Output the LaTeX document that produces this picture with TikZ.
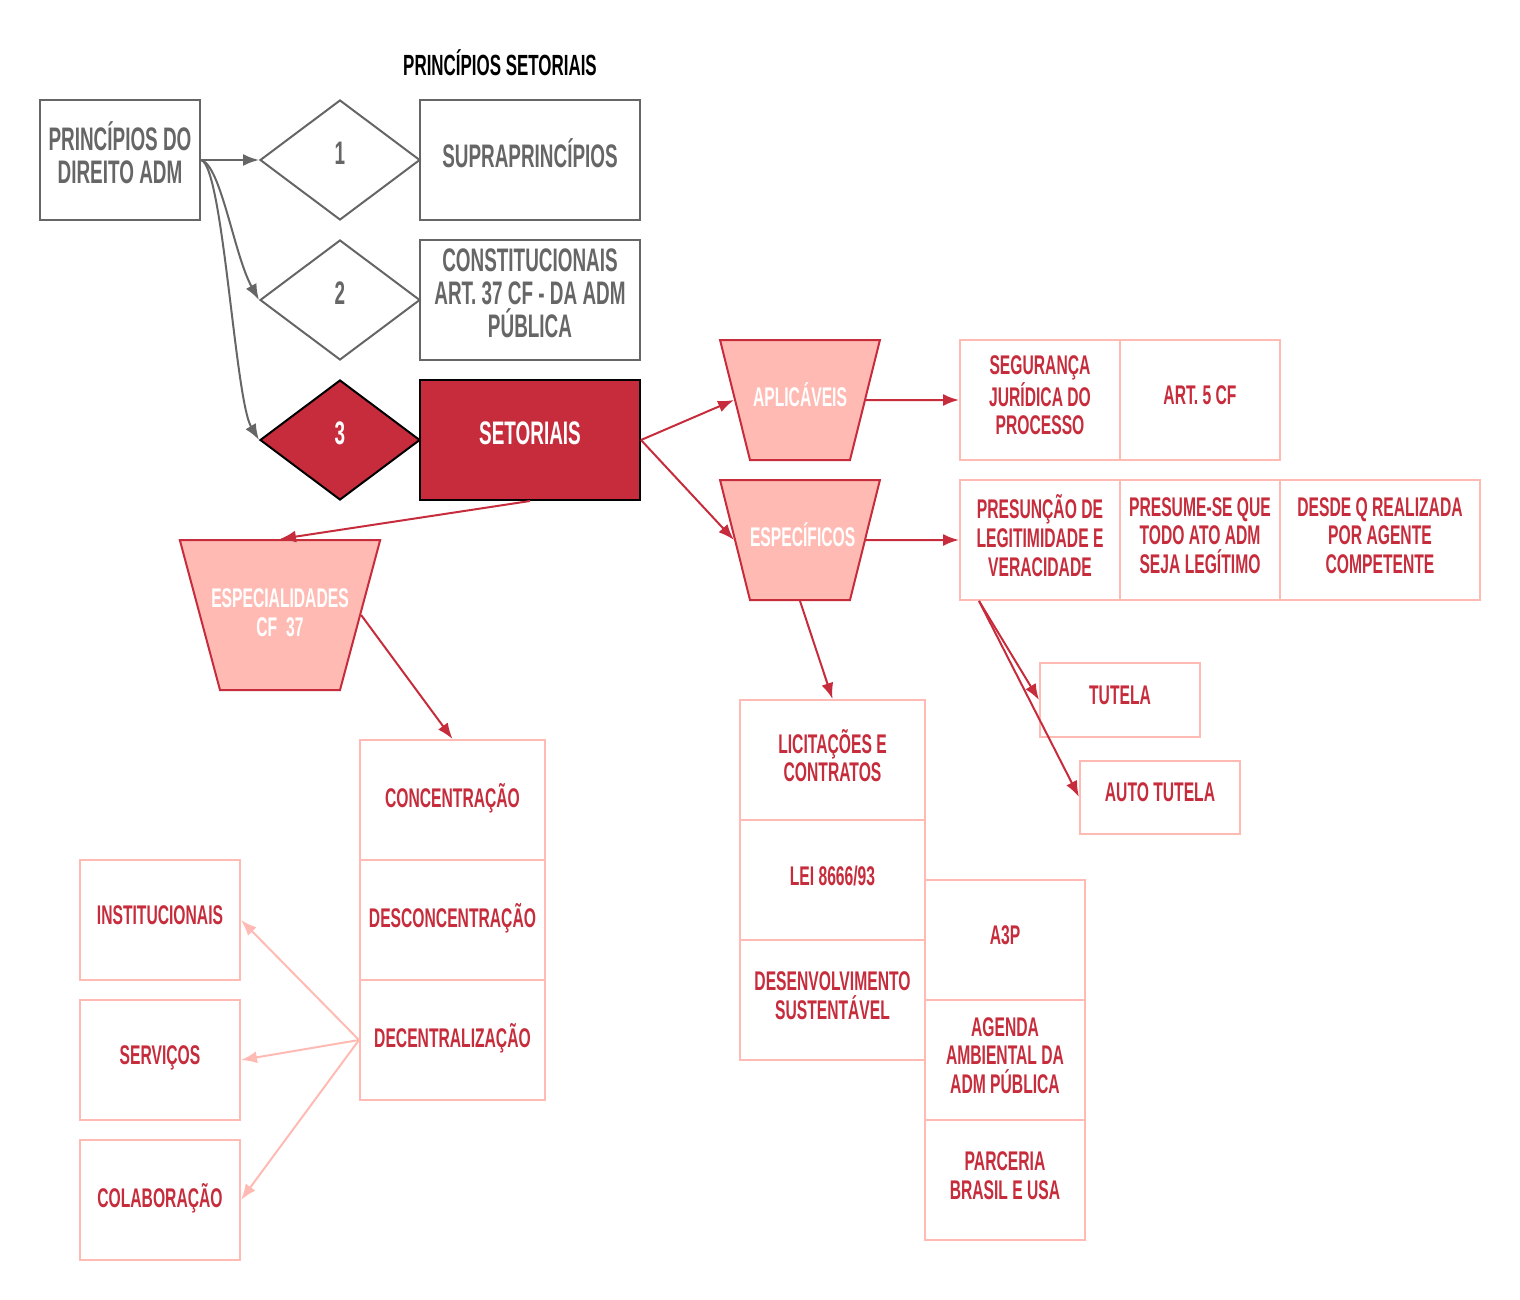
\documentclass[tikz,border=0pt]{standalone}
\usepackage{fontspec}
\setmainfont{Liberation Sans}[FakeStretch=0.58]
\usetikzlibrary{shapes.geometric,arrows.meta}
\definecolor{setred}{HTML}{C62C3B}
\definecolor{setpink}{HTML}{FFBBB3}
\definecolor{setgray}{HTML}{666666}
\tikzset{
	graytext/.style = {font = \bfseries\fontsize{16.3}{16.5}\selectfont, align = center},
	redtext/.style = {font = \bfseries\fontsize{13.5}{14.3}\selectfont, align = center},
	graybox/.style = {draw = setgray, line width = 1pt, text = setgray, graytext, inner sep = 0pt, minimum width = 110pt, minimum height = 60pt, execute at end node = {\rule[-7pt]{0pt}{0pt}}},
	graydiam/.style = {diamond, draw = setgray, line width = 1pt, text = setgray, graytext, inner sep = 0pt, minimum width = 80pt, minimum height = 60pt, execute at end node = {\rule[-7pt]{0pt}{0pt}}},
	cellbox/.style = {draw = setpink, line width = 1pt, text = setred, redtext, inner sep = 0pt, minimum width = 80pt, minimum height = 60pt, execute at end node = {\rule[-4.5pt]{0pt}{0pt}}},
	trapbox/.style = {trapezium, shape border rotate = 180, trapezium stretches = false, trapezium stretches body = false, fill = setpink, draw = setred, line width = 1pt, text = white, redtext, inner sep = 0pt},
	grayarrow/.style = {draw = setgray, line width = 1pt, -{Latex[length = 8pt, width = 6pt]}},
	redarrow/.style = {draw = setred, line width = 1pt, -{Latex[length = 8pt, width = 6pt]}},
	pinkarrow/.style = {draw = setpink, line width = 1pt, -{Latex[length = 8pt, width = 6pt]}}
}
\begin{document}
\begin{tikzpicture}[x = 0.5pt, y = -0.5pt]
	\useasboundingbox (0,0) rectangle (1520,1300);
	\node [graytext, text = black, font = \bfseries\fontsize{14.6}{16.5}\selectfont] (titulo) at (500,63) {PRINCÍPIOS SETORIAIS};
	\node [graybox, minimum width = 80pt] (direito) at (120,160) {PRINCÍPIOS DO\\DIREITO ADM};
	\node [graydiam] (um) at (340,160) {1};
	\node [graybox] (supra) at (530,160) {SUPRAPRINCÍPIOS};
	\node [graydiam] (dois) at (340,300) {2};
	\node [graybox] (const) at (530,300) {CONSTITUCIONAIS\\ART. 37 CF - DA ADM\\PÚBLICA};
	\node [graydiam, fill = setred, draw = black, text = white] (tres) at (340,440) {3};
	\node [graybox, fill = setred, draw = black, text = white] (setoriais) at (530,440) {SETORIAIS};
	\draw [grayarrow] (direito.east) -- (um.west);
	\draw [grayarrow] (direito.east) .. controls +(20,5) and +(-25,-45) .. (dois.west);
	\draw [grayarrow] (direito.east) .. controls +(22,5) and +(-24,-40) .. (tres.west);
	\node [trapbox, text width = 50pt, text height = 33pt, text depth = 27pt, trapezium left angle = 76, trapezium right angle = 76] (aplic) at (800,400) {APLICÁVEIS};
	\node [trapbox, text width = 50pt, text height = 33pt, text depth = 27pt, trapezium left angle = 76, trapezium right angle = 76] (especif) at (800,540) {ESPECÍFICOS};
	\node [trapbox, text width = 76pt, inner xsep = -8pt, text height = 33.75pt, text depth = 41.25pt, trapezium left angle = 75, trapezium right angle = 75] (especial) at (280,615) {ESPECIALIDADES\\\mbox{CF 37}};
	\draw [redarrow] (setoriais.east) -- (aplic.180);
	\draw [redarrow] (setoriais.east) -- (especif.180);
	\draw [redarrow] (setoriais.south) -- (especial.90);
	\node [cellbox] (seguranca) at (1040,400) {SEGURANÇA\\JURÍDICA DO\\PROCESSO};
	\node [cellbox] (art) at (1200,400) {ART. 5 CF};
	\draw [redarrow] (aplic.0) -- (seguranca.west);
	\node [cellbox] (presuncao) at (1040,540) {PRESUNÇÃO DE\\LEGITIMIDADE E\\VERACIDADE};
	\node [cellbox] (presume) at (1200,540) {PRESUME-SE QUE\\TODO ATO ADM\\SEJA LEGÍTIMO};
	\node [cellbox, minimum width = 100pt] (desde) at (1380,540) {DESDE Q REALIZADA\\POR AGENTE\\COMPETENTE};
	\draw [redarrow] (especif.0) -- (presuncao.west);
	\node [cellbox, minimum height = 37pt] (tutela) at (1120,700) {TUTELA};
	\node [cellbox, minimum height = 36.5pt] (autotutela) at (1160,797) {AUTO TUTELA};
	\coordinate (ramo) at ([xshift = 10pt]presuncao.south west);
	\draw [redarrow] (ramo) -- (tutela.west);
	\draw [redarrow] (ramo) -- (autotutela.west);
	\node [cellbox, minimum width = 92.5pt] (licit) at (832.5,760) {LICITAÇÕES E\\CONTRATOS};
	\node [cellbox, minimum width = 92.5pt] (lei) at (832.5,880) {LEI 8666/93};
	\node [cellbox, minimum width = 92.5pt] (desenv) at (832.5,1000) {DESENVOLVIMENTO\\SUSTENTÁVEL};
	\draw [redarrow] (especif.270) -- (licit.north);
	\node [cellbox] (atresp) at (1005,940) {A3P};
	\node [cellbox] (agenda) at (1005,1060) {AGENDA\\AMBIENTAL DA\\ADM PÚBLICA};
	\node [cellbox] (parceria) at (1005,1180) {PARCERIA\\BRASIL E USA};
	\node [cellbox, minimum width = 92.5pt] (concent) at (452.5,800) {CONCENTRAÇÃO};
	\node [cellbox, minimum width = 92.5pt] (desconc) at (452.5,920) {DESCONCENTRAÇÃO};
	\node [cellbox, minimum width = 92.5pt] (descent) at (452.5,1040) {DECENTRALIZAÇÃO};
	\draw [redarrow] (especial.0) -- (concent.north);
	\node [cellbox] (instit) at (160,920) {INSTITUCIONAIS};
	\node [cellbox] (servicos) at (160,1060) {SERVIÇOS};
	\node [cellbox] (colab) at (160,1200) {COLABORAÇÃO};
	\draw [pinkarrow] (descent.west) -- (instit.east);
	\draw [pinkarrow] (descent.west) -- (servicos.east);
	\draw [pinkarrow] (descent.west) -- (colab.east);
\end{tikzpicture}
\end{document}
